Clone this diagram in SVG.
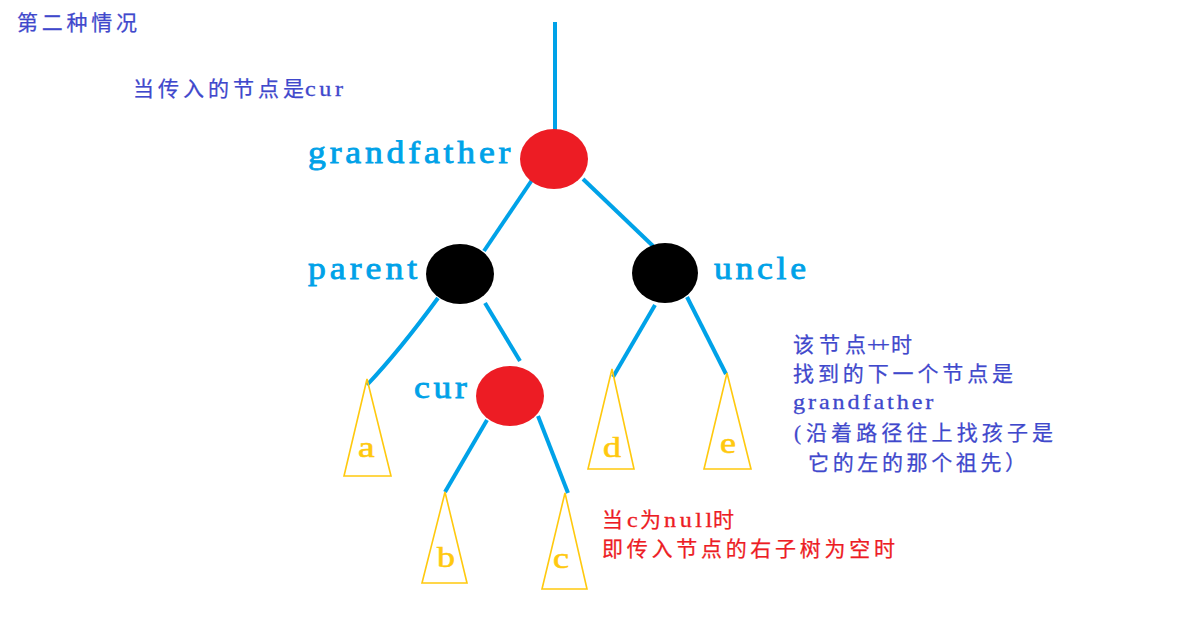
<svg xmlns="http://www.w3.org/2000/svg" width="1201" height="640" viewBox="0 0 1201 640">
<style>
.note{font-family:"Noto Sans CJK SC",sans-serif;font-size:21px;fill:#3f48cc;stroke:#3f48cc;stroke-width:0.25;}
.asc{font-family:"Liberation Serif",serif;font-size:21px;fill:#3f48cc;stroke:#3f48cc;stroke-width:0.3;}
.red{fill:#ed1c24;stroke:#ed1c24;}
.lbl{font-family:"Liberation Serif",serif;font-size:31px;fill:#00a2e8;stroke:#00a2e8;stroke-width:0.8;}
.tl{font-family:"Liberation Serif",serif;font-size:30px;fill:#ffc90e;stroke:#ffc90e;stroke-width:0.6;}
.edge{stroke:#00a2e8;stroke-width:4;fill:none;}
.tri{stroke:#ffc90e;stroke-width:1.6;fill:none;}
</style>
<rect width="1201" height="640" fill="#ffffff"/>
<g id="connectors">
<line class="edge" x1="555" y1="22" x2="555" y2="132"/>
<line class="edge" x1="532" y1="180" x2="484" y2="251"/>
<line class="edge" x1="583" y1="179" x2="653" y2="246"/>
<path class="edge" d="M438 298 Q400 350 367 385"/>
<line class="edge" x1="485" y1="303" x2="520" y2="361"/>
<line class="edge" x1="487" y1="420" x2="445" y2="492"/>
<line class="edge" x1="538" y1="416" x2="568" y2="493"/>
<line class="edge" x1="655" y1="305" x2="613" y2="377"/>
<line class="edge" x1="687" y1="297" x2="726" y2="374"/>
</g>
<g id="grandfather">
<ellipse cx="554" cy="159" rx="34" ry="30" fill="#ed1c24"/>
<text class="lbl" transform="translate(308,163) scale(1.15,1)" textLength="176" lengthAdjust="spacing">grandfather</text>
</g>
<g id="parent">
<ellipse cx="460" cy="274" rx="34" ry="30" fill="#000000"/>
<text class="lbl" transform="translate(308,279) scale(1.15,1)" textLength="95" lengthAdjust="spacing">parent</text>
</g>
<g id="uncle">
<ellipse cx="665" cy="273" rx="33" ry="30" fill="#000000"/>
<text class="lbl" transform="translate(714,279) scale(1.15,1)" textLength="80" lengthAdjust="spacing">uncle</text>
</g>
<g id="cur">
<ellipse cx="510" cy="396" rx="34" ry="30" fill="#ed1c24"/>
<text class="lbl" transform="translate(414,398) scale(1.15,1)" textLength="46" lengthAdjust="spacing">cur</text>
</g>
<g id="subtree-a">
<polygon class="tri" points="367,379 391,476 344,476"/>
<text class="tl" transform="translate(358,457) scale(1.25,1)">a</text>
</g>
<g id="subtree-b">
<polygon class="tri" points="445,492 467,583 422,583"/>
<text class="tl" transform="translate(437,567) scale(1.2,1)">b</text>
</g>
<g id="subtree-c">
<polygon class="tri" points="565,493 587,589 542,589"/>
<text class="tl" transform="translate(553,568) scale(1.2,1)">c</text>
</g>
<g id="subtree-d">
<polygon class="tri" points="612,369 634,469 588,469"/>
<text class="tl" transform="translate(603,457) scale(1.2,1)">d</text>
</g>
<g id="subtree-e">
<polygon class="tri" points="727,373 751,469 704,469"/>
<text class="tl" transform="translate(720,453) scale(1.2,1)">e</text>
</g>
<g id="notes">
<text class="note" x="17" y="30" textLength="120" lengthAdjust="spacing">第二种情况</text>
<text class="note" x="133" y="96" textLength="171" lengthAdjust="spacing">当传入的节点是</text>
<text class="asc" transform="translate(305,96) scale(1.15,1)" textLength="33" lengthAdjust="spacing">cur</text>
<text class="note" x="793" y="352" textLength="73" lengthAdjust="spacing">该节点</text>
<text class="asc" transform="translate(867,352) scale(1.15,1)" textLength="20" lengthAdjust="spacing">++</text>
<text class="note" x="891" y="352">时</text>
<text class="note" x="793" y="381" textLength="220" lengthAdjust="spacing">找到的下一个节点是</text>
<text class="asc" transform="translate(793,409) scale(1.15,1)" textLength="122" lengthAdjust="spacing">grandfather</text>
<text class="asc" x="794" y="440">(</text>
<text class="note" x="806" y="440" textLength="247" lengthAdjust="spacing">沿着路径往上找孩子是</text>
<text class="note" x="808" y="470" textLength="218" lengthAdjust="spacing">它的左的那个祖先）</text>
<text class="note red" x="602" y="527">当</text>
<text class="asc red" transform="translate(627,527) scale(1.15,1)">c</text>
<text class="note red" x="640" y="527">为</text>
<text class="asc red" transform="translate(664,527) scale(1.15,1)" textLength="42" lengthAdjust="spacing">null</text>
<text class="note red" x="713" y="527">时</text>
<text class="note red" x="602" y="556" textLength="293" lengthAdjust="spacing">即传入节点的右子树为空时</text>
</g>
</svg>
